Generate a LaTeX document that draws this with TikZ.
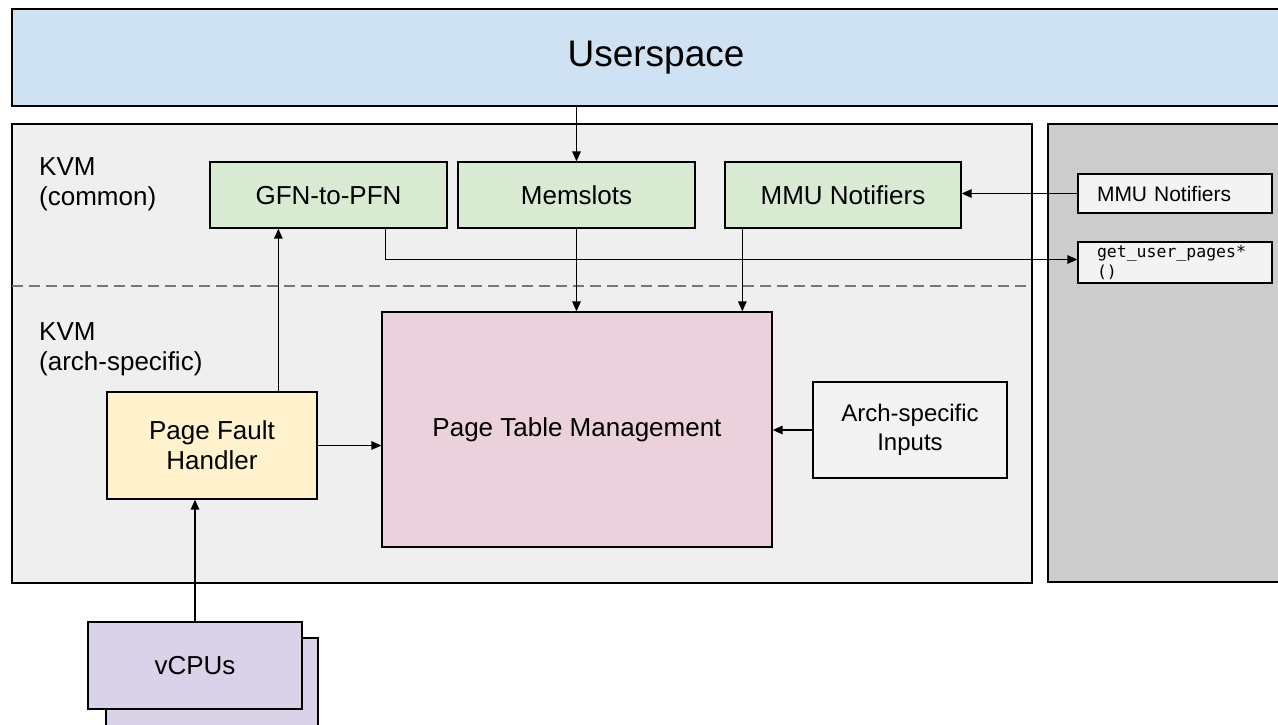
\documentclass[tikz,border=0pt]{standalone}
\usepackage{fontspec}
\setmainfont{Liberation Sans}
\setmonofont{DejaVu Sans Mono}
\usetikzlibrary{arrows.meta}
\definecolor{userblue}{HTML}{CFE2F3}
\definecolor{kvmgray}{HTML}{EFEFEF}
\definecolor{hostgray}{HTML}{CCCCCC}
\definecolor{commongreen}{HTML}{D9EAD3}
\definecolor{tablepink}{HTML}{EAD1DC}
\definecolor{faultyellow}{HTML}{FFF2CC}
\definecolor{vcpupurple}{HTML}{D9D2E9}
\definecolor{inputwhite}{HTML}{F3F3F3}
\definecolor{dashgray}{HTML}{777777}

\begin{document}
\begin{tikzpicture}[x=1pt,y=-1pt,
  box/.style={draw,line width=1.3pt,inner sep=0pt,align=center,font=\fontsize{26}{30}\selectfont},
  commonbox/.style={box,fill=commongreen,minimum height=66,text height=19pt,text depth=1pt},
  smallbox/.style={draw,line width=1.3pt,fill=inputwhite,inner xsep=19pt,inner ysep=0pt,text width=156pt,align=left},
  region/.style={inner sep=0pt,anchor=north west,align=left,font=\fontsize{26}{30}\selectfont},
  link/.style={line width=1.4pt,-{Triangle[length=10pt,width=8.5pt]}}]
\path[use as bounding box] (0,0) rectangle (1278,724);
\fill[kvmgray] (12,124) rectangle (1032,583);
\draw[line width=1.3pt] (12,124) rectangle (1032,583);
\draw[fill=hostgray,line width=1.3pt] (1048,124) rectangle (1300,582);
\draw[dashgray,line width=1.5pt,dash pattern=on 11pt off 6pt] (12,286)--(1032,286);

\node[box,fill=userblue,line width=1.6pt,minimum width=1288,minimum height=97,font=\fontsize{37}{42}\selectfont] (userspace) at (656,57.5) {Userspace};

\node[region] (kvmcommon) at (39,157) {KVM\\(common)};
\node[region] (kvmarch) at (39,322) {KVM\\(arch-specific)};

\node[commonbox,minimum width=237] (gfn) at (328.5,195) {GFN-to-PFN};
\node[commonbox,minimum width=237] (memslots) at (576.5,195) {Memslots};
\node[commonbox,minimum width=236] (mmu) at (843,195) {MMU Notifiers};

\node[smallbox,minimum height=39,font=\fontsize{21}{24}\selectfont] (mmuext) at (1175,193.5) {MMU Notifiers};
\node[smallbox,minimum height=41,font=\ttfamily\fontsize{16.5}{20}\selectfont] (gup) at (1175,262.5) {get\_user\_pages*\\()};

\node[box,fill=tablepink,minimum width=390,minimum height=235] (ptm) at (577,429.5) {Page Table Management};
\node[box,fill=inputwhite,minimum width=194,minimum height=96,font=\fontsize{24}{29}\selectfont] (archin) at (910,430) {Arch-specific\\Inputs};
\node[box,fill=faultyellow,minimum width=210,minimum height=107] (pfh) at (212,445.5) {Page Fault\\Handler};

\node[box,fill=vcpupurple,minimum width=212,minimum height=92] (vcpuback) at (212,684) {};
\node[box,fill=vcpupurple,minimum width=214,minimum height=87] (vcpu) at (195,665.5) {vCPUs};

\draw[link] (memslots.north |- userspace.south)--(memslots.north);
\draw[link] (memslots.south)--(memslots.south |- ptm.north);
\draw[link] ([xshift=18pt]mmu.south west)--([xshift=18pt]mmu.south west |- ptm.north);
\draw[link] (mmuext.west)--(mmuext.west -| mmu.east);
\draw[link] ([xshift=176pt]gfn.south west) |- ([yshift=3pt]gup.west);
\draw[link] ([xshift=172pt]pfh.north west)--([xshift=172pt]pfh.north west |- gfn.south);
\draw[link] (pfh.east)--(pfh.east -| ptm.west);
\draw[link] (archin.west)--(archin.west -| ptm.east);
\draw[link] (vcpu.north)--(vcpu.north |- pfh.south);
\end{tikzpicture}
\end{document}
